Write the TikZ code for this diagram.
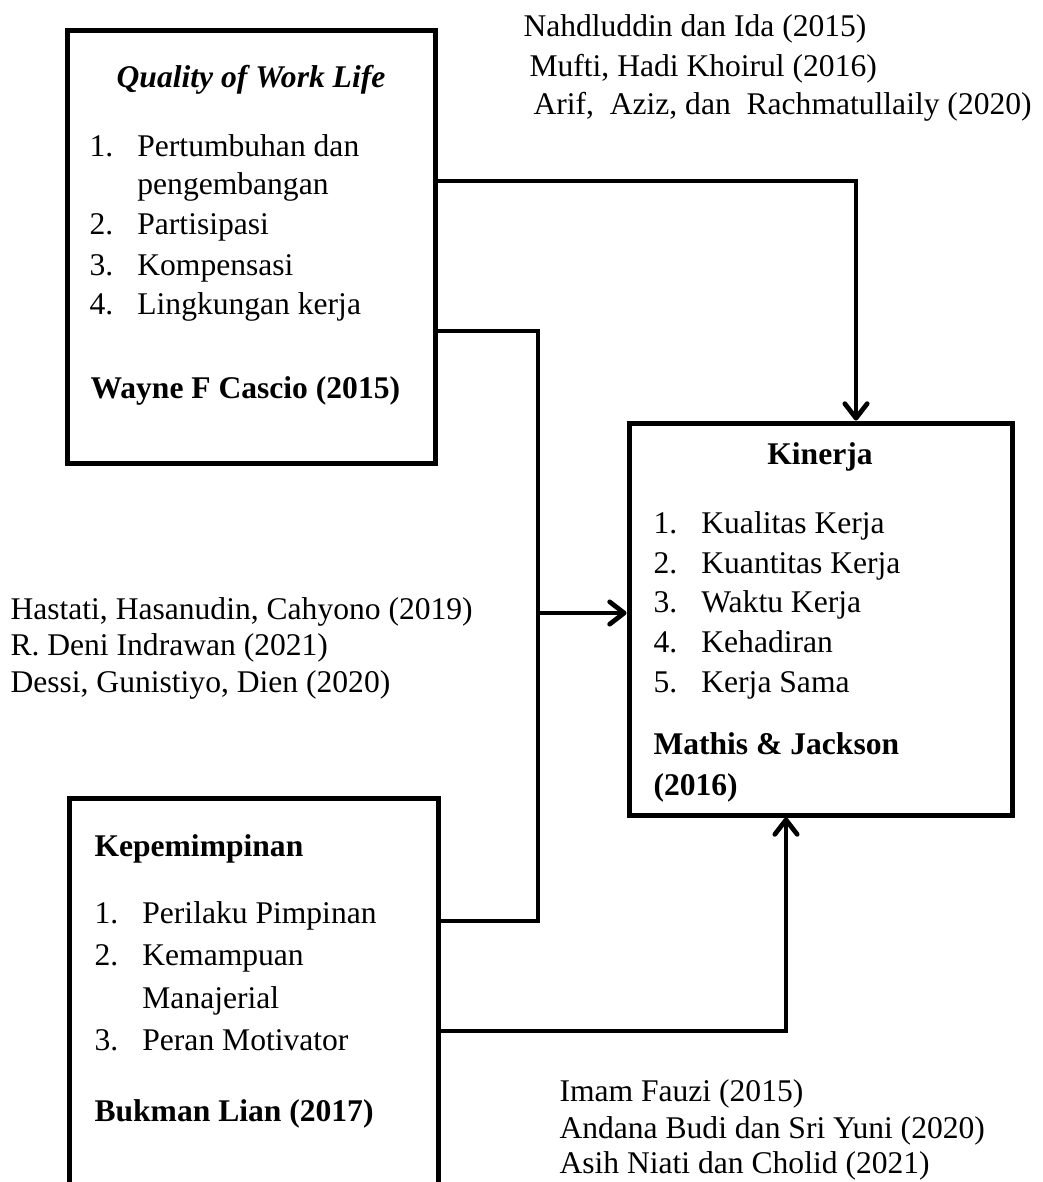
\documentclass[12pt,tikz,border=0pt]{standalone}
\usepackage{fontspec}
\setmainfont{Liberation Serif}
\usetikzlibrary{arrows.meta, fit}
\newcommand{\Num}[1]{\makebox[18.2pt][l]{#1}}
\tikzset{
    box/.style={draw, rectangle, line width=1.9pt, inner sep=0pt},
    txt/.style={anchor=base west, inner sep=0pt},
    link/.style={line width=1.8pt},
    arr/.style={link, -{Straight Barb[length=5.5pt, width=8.5pt, line cap=round, line join=round]}},
}
\begin{document}
\begin{tikzpicture}[x=0.38pt, y=-0.38pt]
    \useasboundingbox (0,0) rectangle (1043,1182);
    \clip (0,0) rectangle (1043,1182);

    % boxes
    \node[box, fit={(67,30) (435,463)}] (qwl) {};
    \node[box, fit={(629,423) (1012,815)}] (kin) {};
    \node[box, fit={(69,798) (438,1260)}] (kep) {};

    % Quality of Work Life
    \node[txt, anchor=base, font=\bfseries\itshape] (qwlt) at (251,87) {Quality of Work Life};
    \node[txt] (qwl1) at (89,156) {\Num{1.}Pertumbuhan dan};
    \node[txt] (qwl1b) at (89,194) {\Num{}pengembangan};
    \node[txt] (qwl2) at (89,234) {\Num{2.}Partisipasi};
    \node[txt] (qwl3) at (89,275) {\Num{3.}Kompensasi};
    \node[txt] (qwl4) at (89,314) {\Num{4.}Lingkungan kerja};
    \node[txt, font=\bfseries] (qwls) at (90,398) {Wayne F Cascio (2015)};

    % Kinerja
    \node[txt, anchor=base, font=\bfseries] (kint) at (820,464) {Kinerja};
    \node[txt] (kin1) at (653,533) {\Num{1.}Kualitas Kerja};
    \node[txt] (kin2) at (653,573) {\Num{2.}Kuantitas Kerja};
    \node[txt] (kin3) at (653,612) {\Num{3.}Waktu Kerja};
    \node[txt] (kin4) at (653,652) {\Num{4.}Kehadiran};
    \node[txt] (kin5) at (653,692) {\Num{5.}Kerja Sama};
    \node[txt, font=\bfseries] (kins) at (653,754) {Mathis \& Jackson};
    \node[txt, font=\bfseries] (kinsb) at (653,795) {(2016)};

    % Kepemimpinan
    \node[txt, font=\bfseries] (kept) at (94,856) {Kepemimpinan};
    \node[txt] (kep1) at (94,923) {\Num{1.}Perilaku Pimpinan};
    \node[txt] (kep2) at (94,965) {\Num{2.}Kemampuan};
    \node[txt] (kep2b) at (94,1008) {\Num{}Manajerial};
    \node[txt] (kep3) at (94,1050) {\Num{3.}Peran Motivator};
    \node[txt, font=\bfseries] (keps) at (94,1121) {Bukman Lian (2017)};

    % citations
    \node[txt] (ca1) at (523,36) {Nahdluddin dan Ida (2015)};
    \node[txt] (ca2) at (529,76) {Mufti, Hadi Khoirul (2016)};
    \node[txt] (ca3) at (533,114) {Arif,\ \ Aziz, dan\ \ Rachmatullaily (2020)};
    \node[txt] (cb1) at (10,619) {Hastati, Hasanudin, Cahyono (2019)};
    \node[txt] (cb2) at (10,655) {R. Deni Indrawan (2021)};
    \node[txt] (cb3) at (10,692) {Dessi, Gunistiyo, Dien (2020)};
    \node[txt] (cc1) at (559,1101) {Imam Fauzi (2015)};
    \node[txt] (cc2) at (559,1138) {Andana Budi dan Sri Yuni (2020)};
    \node[txt] (cc3) at (559,1173) {Asih Niati dan Cholid (2021)};

    % connectors
    \coordinate (b1) at (856,181);
    \coordinate (b2) at (538,331);
    \coordinate (b3) at (538,921);
    \coordinate (b4) at (538,613);
    \coordinate (b5) at (786,1031);

    \draw[arr] (qwl.east |- b1) -- (b1) -- (kin.north -| b1);
    \draw[link] (qwl.east |- b2) -- (b2) -- (b3) -- (kep.east |- b3);
    \draw[arr] (b4) -- (kin.west |- b4);
    \draw[arr] (kep.east |- b5) -- (b5) -- (kin.south -| b5);
\end{tikzpicture}
\end{document}
